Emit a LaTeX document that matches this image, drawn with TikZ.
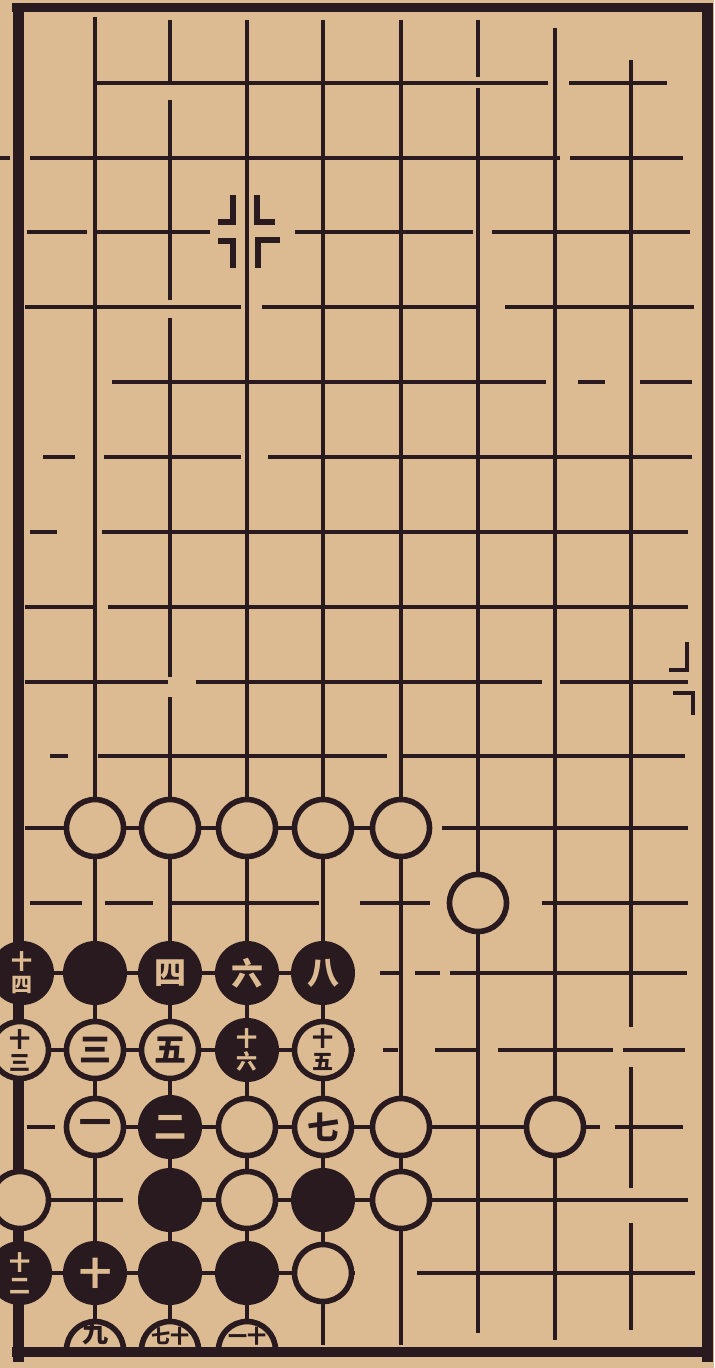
\documentclass[tikz,border=0pt]{standalone}
\usepackage{fontspec}
\newfontfamily\cjk{Noto Sans CJK SC}
\definecolor{paper}{RGB}{220,186,146}
\definecolor{inkc}{RGB}{40,26,30}
\begin{document}
\begin{tikzpicture}[x=0.5pt,y=-0.5pt,
  gridl/.style={draw=inkc,line width=1.7pt},
  border/.style={draw=inkc,line width=5.5pt},
  starmk/.style={draw=inkc,line width=3.4pt,line join=miter},
  wstone/.style={circle,draw=inkc,fill=paper,line width=2.8pt,minimum size=28.5pt,inner sep=0pt,text=inkc,font=\cjk\bfseries\fontsize{16}{16}\selectfont},
  bstone/.style={circle,draw=inkc,fill=inkc,line width=1pt,minimum size=31pt,inner sep=0pt,text=paper,font=\cjk\bfseries\fontsize{16}{16}\selectfont},
  two/.style={align=center,font=\cjk\bfseries\fontsize{10.5}{11.5}\selectfont},
  halftxt/.style={inner sep=0pt,text=inkc,font=\cjk\bfseries\fontsize{9.5}{10}\selectfont}]
\fill[paper] (0,0) rectangle (714,1368);
\useasboundingbox (0,0) rectangle (714,1368);
% horizontal grid segments
\foreach \y/\a/\b in {83/96/548, 83/569/667, 158/0/10, 158/30/560, 158/570/683,
  232/27/87, 232/96/210, 232/295/473, 232/492/690,
  307/25/241, 307/262/478, 307/505/694,
  382/112/546, 382/578/605, 382/640/692,
  457/43/75, 457/104/241, 457/268/692,
  532/30/57, 532/102/688, 607/25/95, 607/108/688,
  682/25/168, 682/196/542, 682/560/688,
  756/50/68, 756/98/387, 756/403/685,
  828/25/432, 828/442/688,
  903/30/82, 903/105/153, 903/171/319, 903/360/430, 903/542/688,
  973/20/355, 973/380/400, 973/415/440, 973/450/687,
  1050/20/355, 1050/383/398, 1050/435/480, 1050/498/613, 1050/623/685,
  1127/27/55, 1127/95/525, 1127/585/600, 1127/615/683,
  1200/20/123, 1200/170/688,
  1273/20/355, 1273/417/695}
  \draw[gridl] (\a,\y) -- (\b,\y);
% vertical grid segments
\foreach \x/\a/\b in {95/17/1345, 170/20/85, 170/100/300, 170/318/677, 170/697/1345,
  247/20/1345, 323/20/1345, 401/20/1345, 478/20/77, 478/88/1333,
  555/28/1340, 631/60/1027, 631/1067/1188, 631/1223/1330}
  \draw[gridl] (\x,\a) -- (\x,\b);
% star point marks
\draw[starmk] (233,195) -- (233,222) -- (218,222);
\draw[starmk] (257,195) -- (257,222) -- (275,222);
\draw[starmk] (218,241) -- (233,241) -- (233,268);
\draw[starmk] (280,240) -- (258,240) -- (258,268);
\draw[draw=inkc,line width=2.2pt] (669,670) -- (687,670) -- (687,642);
\draw[draw=inkc,line width=2.2pt] (673,693) -- (693,693) -- (693,715);
% frame: left, top and right sides (under the stones)
\draw[border] (18,3) -- (18,1362);
\draw[border,line width=4.5pt] (12,8) -- (712,8);
\draw[border] (707,3) -- (707,1362);
% white stones, row 10 and 11
\foreach \x/\n in {95/a,170/b,247/c,323/d,401/e}
  \node[wstone] (w10\n) at (\x,828) {};
\node[wstone] (w11) at (478,903) {};
% row 12
\node[bstone,two] (b12a) at (22,973) {十\\四};
\node[bstone] (b12b) at (95,973) {};
\node[bstone] (b12c) at (170,973) {四};
\node[bstone] (b12d) at (247,973) {六};
\node[bstone] (b12e) at (323,973) {八};
% row 13
\node[wstone,two] (w13a) at (20,1050) {十\\三};
\node[wstone] (w13b) at (95,1050) {三};
\node[wstone] (w13c) at (170,1050) {五};
\node[bstone,two] (b13d) at (247,1050) {十\\六};
\node[wstone,two] (w13e) at (323,1050) {十\\五};
% row 14
\node[wstone] (w14b) at (95,1127) {一};
\node[bstone] (b14c) at (170,1127) {二};
\node[wstone] (w14d) at (247,1127) {};
\node[wstone] (w14e) at (323,1127) {七};
\node[wstone] (w14f) at (401,1127) {};
\node[wstone] (w14h) at (555,1127) {};
% row 15
\node[wstone] (w15a) at (20,1200) {};
\node[bstone] (b15c) at (170,1200) {};
\node[wstone] (w15d) at (247,1200) {};
\node[bstone] (b15e) at (323,1200) {};
\node[wstone] (w15f) at (401,1200) {};
% row 16
\node[bstone,two] (b16a) at (20,1273) {十\\二};
\node[bstone] (b16b) at (95,1273) {十};
\node[bstone] (b16c) at (170,1273) {};
\node[bstone] (b16d) at (247,1273) {};
\node[wstone] (w16e) at (323,1273) {};
% row 17, half stones cut by the lower border
\begin{scope}
  \clip (0,0) rectangle (714,1350);
  \node[wstone] (w17b) at (95,1350) {};
  \node[wstone] (w17c) at (170,1350) {};
  \node[wstone] (w17d) at (247,1350) {};
\end{scope}
\node[halftxt,font=\cjk\bfseries\fontsize{13}{13}\selectfont] (t17b) at (95,1333) {九};
\node[halftxt] (t17c) at (170,1336) {七十};
\node[halftxt] (t17d) at (247,1336) {一十};
% frame: lower side
\draw[border,line width=5pt] (12,1352) -- (712,1352);
\end{tikzpicture}
\end{document}
